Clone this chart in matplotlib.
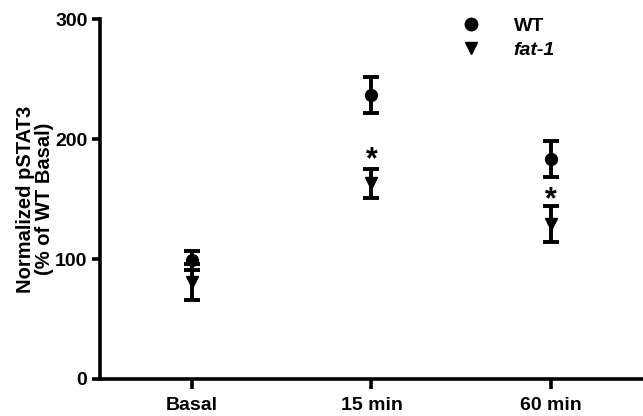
import matplotlib
matplotlib.use("Agg")
import matplotlib.pyplot as plt
from matplotlib.lines import Line2D

plt.rcParams["font.family"] = ["Liberation Sans", "DejaVu Sans"]
plt.rcParams["font.weight"] = "bold"

# values (mean, SEM)
groups = ["Basal", "15 min", "60 min"]
wt_mean = [99, 237, 183]
wt_sem = [8, 15, 15]
fat1_mean = [81, 163, 129]
fat1_sem = [15, 12, 15]
star_y = [None, 182, 149]   # significance marks above fat-1

fig = plt.figure(figsize=(6.43, 4.16), dpi=100)
ax = fig.add_axes([0.1555, 0.089, 0.8445, 0.865])

x = list(range(len(groups)))
eb = dict(fmt="none", ecolor="black", elinewidth=2.8, capsize=5.5, capthick=2.8)
ax.errorbar(x, wt_mean, yerr=wt_sem, **eb)
ax.errorbar(x, fat1_mean, yerr=fat1_sem, **eb)
ax.plot(x, wt_mean, "o", color="black", ms=8.5, zorder=3)
ax.plot(x, fat1_mean, "v", color="black", ms=8.5, zorder=3)

for xi, sy in zip(x, star_y):
    if sy is not None:
        ax.text(xi, sy, "*", ha="center", va="center", fontsize=22, fontweight="bold")

ax.set_xlim(-0.51, 2.51)
ax.set_ylim(0, 300)
ax.set_yticks([0, 100, 200, 300])
ax.set_xticks(x)
ax.set_xticklabels(groups)

for side in ("top", "right"):
    ax.spines[side].set_visible(False)
for side in ("left", "bottom"):
    ax.spines[side].set_linewidth(2.6)
ax.tick_params(width=2.6, length=6, labelsize=14, pad=3)
ax.tick_params(axis="x", length=7, pad=6)

ax.set_ylabel("Normalized pSTAT3\n(% of WT Basal)", fontsize=14.5, fontweight="bold",
              linespacing=1.0)
ax.yaxis.set_label_coords(-0.085, 0.5)

handles = [Line2D([], [], marker="o", ls="none", color="black", ms=9),
           Line2D([], [], marker="v", ls="none", color="black", ms=9)]
leg = ax.legend(handles, ["WT", "fat-1"], loc="upper left", frameon=False,
                bbox_to_anchor=(0.675, 1.0), bbox_transform=fig.transFigure,
                fontsize=14, handletextpad=1.2, labelspacing=0.3)
leg.get_texts()[1].set_style("italic")

fig.savefig("out.png", dpi=100)
